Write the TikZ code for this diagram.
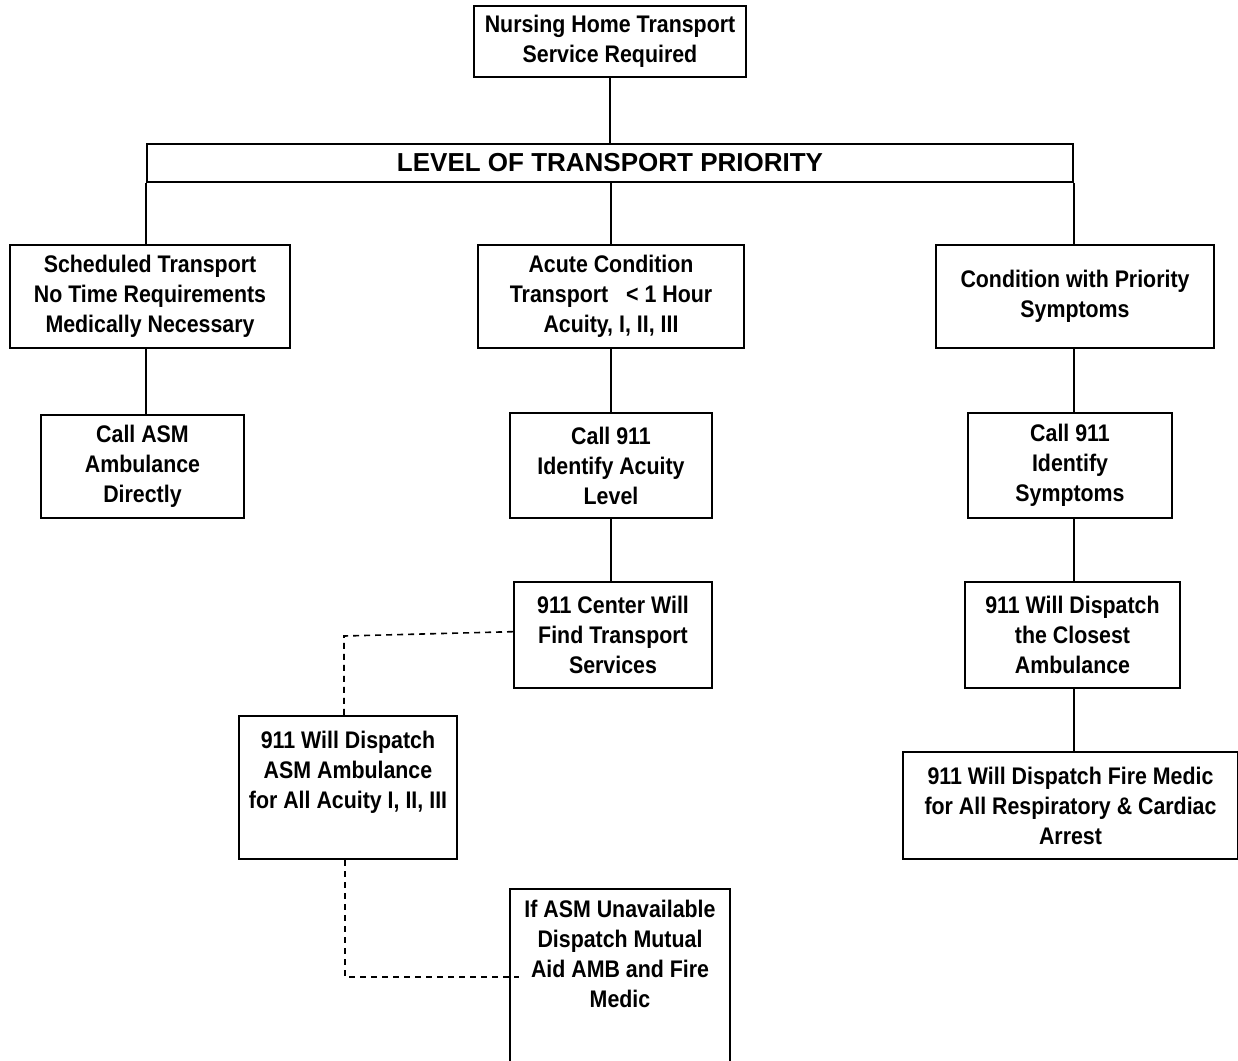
\documentclass[tikz,border=0pt]{standalone}
\usepackage{fontspec}
\setmainfont{Liberation Sans}[FakeStretch=0.89]
\newfontfamily\barfont{Liberation Sans}

\tikzset{every picture/.style={line width=1.5pt}}
\tikzset{
  box/.style={draw, align=center, inner sep=0.75pt, font=\fontsize{18}{22.5}\selectfont\bfseries},
  toptext/.style={anchor=north, align=center, inner sep=0pt, font=\fontsize{18}{22.5}\selectfont\bfseries},
  link/.style={line width=1.2pt},
  dashlink/.style={line width=1.2pt, dash pattern=on 4.5pt off 3.75pt},
}

\begin{document}
\begin{tikzpicture}[x=0.75pt,y=0.75pt,yscale=-1,xscale=1]
\useasboundingbox (0,0) rectangle (1238,1060);

%Shape: Top box
\node[box, minimum width=204pt, minimum height=53.25pt] (need) at (610,41.5) {Nursing Home Transport\\Service Required};
%Shape: Priority bar
\node[draw, inner sep=0pt, minimum width=694.5pt, minimum height=28.5pt, font=\barfont\bfseries\fontsize{19.5}{22}\selectfont] (prio) at (610,163) {LEVEL OF TRANSPORT PRIORITY};

%Shape: Level boxes
\node[box, minimum width=210pt, minimum height=77.25pt] (sched) at (150,296.5) {Scheduled Transport\\No Time Requirements\\Medically Necessary};
\node[box, minimum width=199.5pt, minimum height=77.25pt] (acute) at (611,296.5) {Acute Condition\\Transport\ \ \ < 1 Hour\\Acuity, I, II, III};
\node[box, minimum width=208.5pt, minimum height=77.25pt] (cond) at (1075,296.5) {Condition with Priority\\Symptoms};

%Shape: Call boxes
\node[box, minimum width=152.25pt, minimum height=77.25pt] (callasm) at (142.5,466.5) {Call ASM\\Ambulance\\Directly};
\node[box, minimum width=151.5pt, minimum height=78.75pt] (idacuity) at (611,465.5) {Call 911\\Identify Acuity\\Level};
\node[box, minimum width=153pt, minimum height=78.75pt] (idsympt) at (1070,465.5) {Call 911\\Identify\\Symptoms};

%Shape: Dispatch boxes
\node[box, minimum width=148.5pt, minimum height=79.5pt] (findsvc) at (613,635) {911 Center Will\\Find Transport\\Services};
\node[box, minimum width=161.25pt, minimum height=79.5pt] (closest) at (1072.5,635) {911 Will Dispatch\\the Closest\\Ambulance};
\node[box, minimum width=251.25pt, minimum height=80.25pt] (firemedic) at (1070.5,805.5) {911 Will Dispatch Fire Medic\\for All Respiratory \& Cardiac\\Arrest};

%Shape: Tall boxes, text at top
\node[draw, minimum width=163.5pt, minimum height=107.25pt] (dispasm) at (348,787.5) {};
\node[toptext] (dispasmtxt) at ([yshift=11pt]dispasm.north) {911 Will Dispatch\\ASM Ambulance\\for All Acuity I, II, III};
\node[draw, minimum width=165pt, minimum height=135.75pt] (mutual) at (620,979.5) {};
\node[toptext] (mutualtxt) at ([yshift=8.5pt]mutual.north) {If ASM Unavailable\\Dispatch Mutual\\Aid AMB and Fire\\Medic};

%Straight Lines
\draw[link] (need.south) -- (prio.north -| need.south);
\draw[link] (prio.south west) -- (prio.south west |- sched.north);
\draw[link] (prio.south -| acute.north) -- (acute.north);
\draw[link] (prio.south east) -- (prio.south east |- cond.north);
\draw[link] (sched.south -| prio.south west) -- (callasm.north -| prio.south west);
\draw[link] (acute.south) -- (acute.south |- idacuity.north);
\draw[link] (cond.south -| prio.south east) -- (idsympt.north -| prio.south east);
\draw[link] (idacuity.south) -- (idacuity.south |- findsvc.north);
\draw[link] (idsympt.south -| prio.south east) -- (closest.north -| prio.south east);
\draw[link] (closest.south -| prio.south east) -- (firemedic.north -| prio.south east);

%Dashed Lines
\coordinate (bendA) at (344,636);
\coordinate (bendB) at (345,977);
\draw[dashlink] ([yshift=-2.5pt]findsvc.west) -- (bendA) -- (bendA |- dispasm.north);
\draw[dashlink] (dispasm.south -| bendB) -- (bendB) -- ([xshift=7.5pt]bendB -| mutual.west);

\end{tikzpicture}
\end{document}
